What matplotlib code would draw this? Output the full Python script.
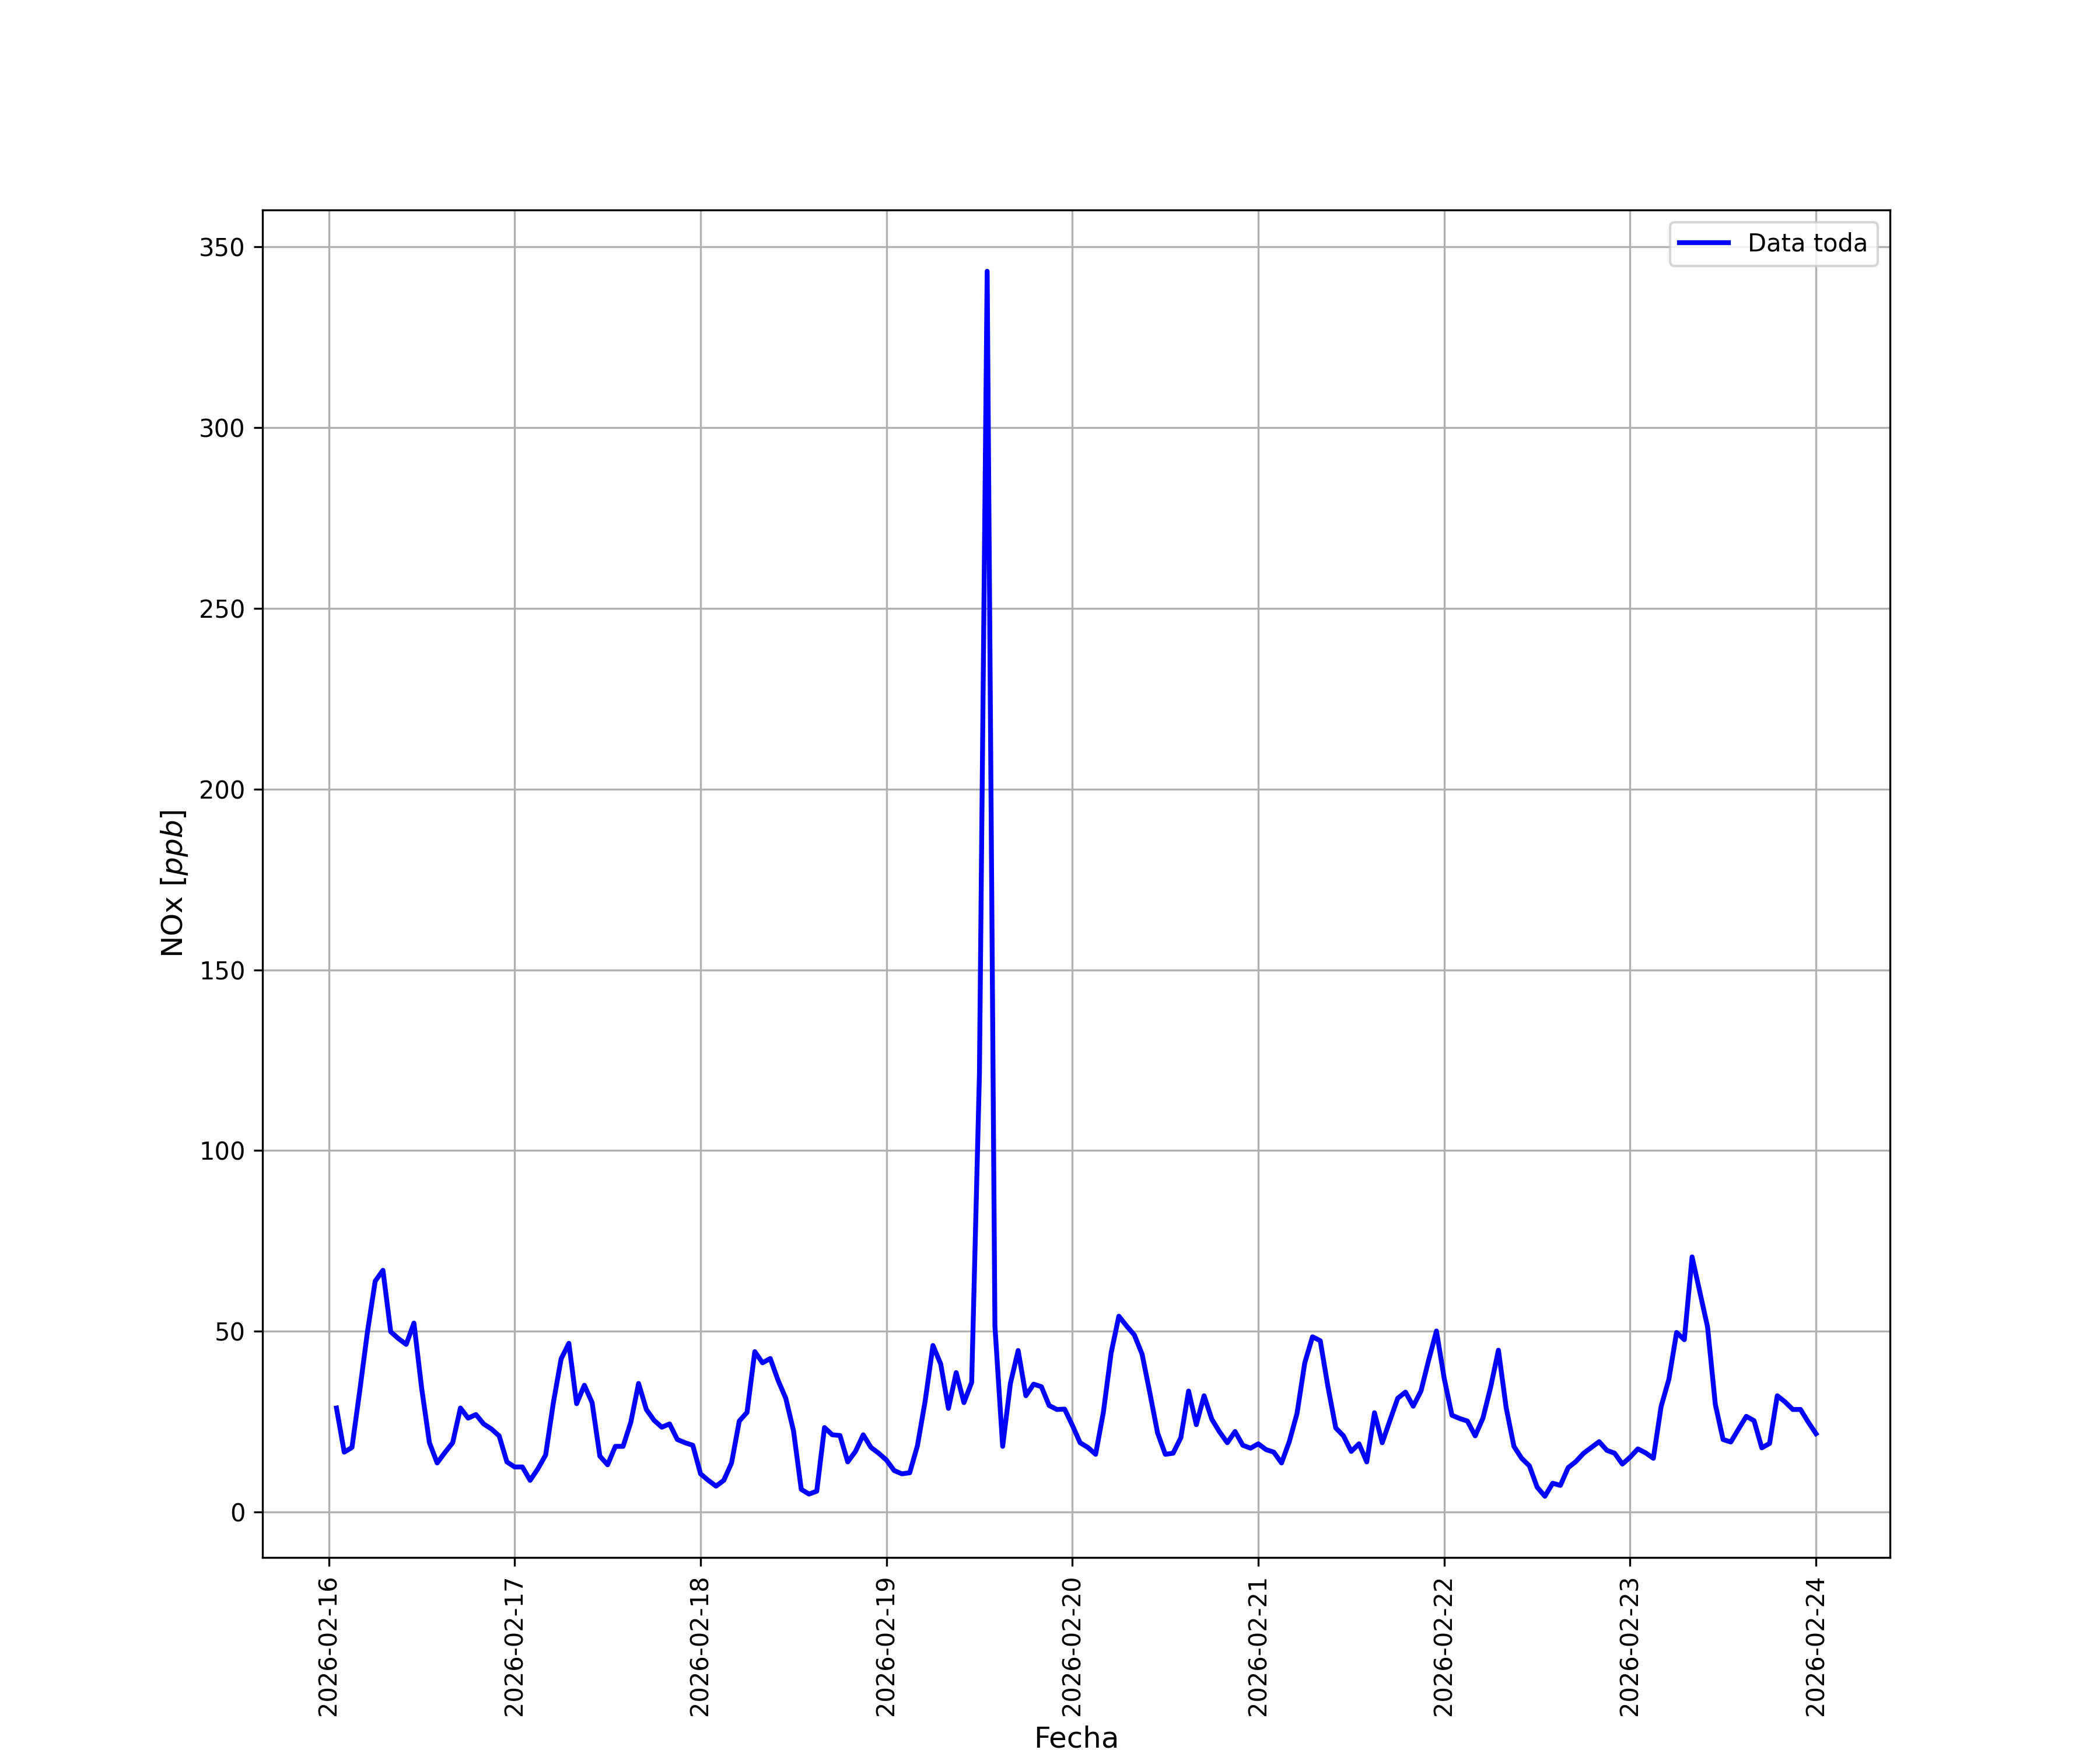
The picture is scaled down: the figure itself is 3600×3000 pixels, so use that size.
import numpy as np
import pandas as pd
import matplotlib
matplotlib.use("Agg")
import matplotlib.pyplot as plt

# hourly NOx readings [ppb], one list per day
dia_16 = [28.8, 16.6, 17.9, 33.5, 49.9, 63.9, 66.9, 49.9, 48.0, 46.4, 52.3, 34.2,
          19.2, 13.6, 16.5, 19.2, 28.8, 26.0, 27.0, 24.4, 23.0, 21.1, 13.9]  # starts 01:00
dia_17 = [12.5, 12.5, 8.8, 12.0, 15.8, 30.3, 42.4, 46.7, 30.0, 35.1, 30.3, 15.5,
          13.1, 18.2, 18.2, 24.9, 35.6, 28.4, 25.4, 23.5, 24.4, 20.1, 19.2, 18.5]
dia_18 = [10.6, 8.8, 7.2, 8.8, 13.6, 25.2, 27.6, 44.4, 41.3, 42.5, 36.5, 31.5,
          22.5, 6.3, 5.0, 5.8, 23.4, 21.4, 21.2, 13.9, 16.8, 21.4, 17.9, 16.3]
dia_19 = [14.4, 11.5, 10.6, 10.9, 18.4, 30.8, 46.1, 41.0, 28.7, 38.6, 30.3, 35.9,
          121.0, 343.2, 51.5, 18.2, 35.6, 44.7, 32.2, 35.4, 34.7, 29.5, 28.4, 28.5]
dia_20 = [24.0, 19.2, 17.9, 16.0, 27.6, 44.0, 54.2, 51.5, 49.0, 43.7, 33.0, 21.9,
          16.0, 16.3, 20.6, 33.5, 24.2, 32.2, 25.7, 22.2, 19.2, 22.3, 18.5, 17.7]
dia_21 = [18.9, 17.3, 16.6, 13.6, 19.5, 27.3, 41.3, 48.5, 47.4, 34.6, 23.3, 21.1,
          16.8, 18.9, 13.9, 27.5, 19.2, 25.4, 31.5, 33.2, 29.3, 33.5, 42.1, 50.1]
dia_22 = [37.0, 26.8, 25.9, 25.2, 21.1, 26.0, 34.6, 44.8, 28.9, 18.2, 14.9, 12.8,
          6.9, 4.4, 8.0, 7.4, 12.3, 14.0, 16.3, 17.9, 19.5, 17.1, 16.3, 13.3]
dia_23 = [15.2, 17.5, 16.4, 14.9, 29.2, 36.7, 49.7, 47.7, 70.6, 60.9, 51.2, 29.8,
          20.1, 19.4, 23.0, 26.5, 25.3, 17.8, 19.0, 32.2, 30.5, 28.4, 28.4, 24.9]
dia_24 = [21.7]  # 00:00

nox = np.array(dia_16 + dia_17 + dia_18 + dia_19 + dia_20 + dia_21 + dia_22 + dia_23 + dia_24)
fechas = pd.date_range("2026-02-16 01:00", periods=len(nox), freq="h")

fig, ax = plt.subplots(figsize=(12, 10))
ax.plot(fechas, nox, color="blue", linewidth=2, label="Data toda")
ax.set_xlabel("Fecha", fontsize=12)
ax.set_ylabel("NOx $[ppb]$", fontsize=12)
ax.grid(True)
ax.legend(loc="upper right")
plt.xticks(rotation=90)

fig.savefig("out.png", dpi=300)
